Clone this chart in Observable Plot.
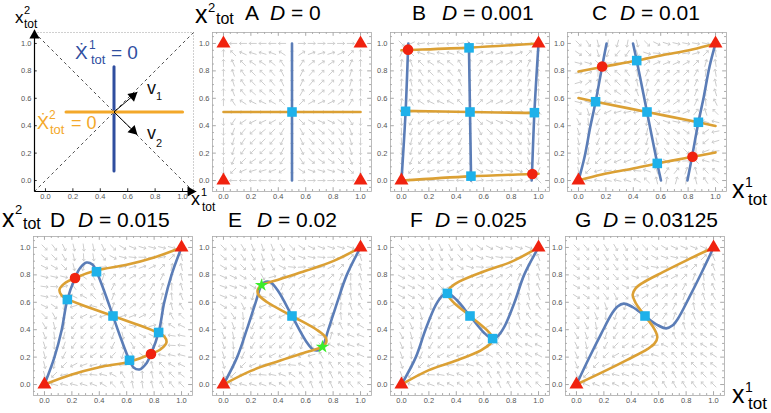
<!DOCTYPE html>
<html><head><meta charset="utf-8">
<script src="https://cdn.jsdelivr.net/npm/d3@7"></script>
<script src="https://cdn.jsdelivr.net/npm/@observablehq/plot@0.6"></script>
<style>
body{margin:0;background:#fff}
#fig{position:relative;width:771px;height:413px;overflow:hidden;background:#fff;font-family:"Liberation Sans",Arial,sans-serif}
.t{position:absolute;white-space:nowrap;line-height:0.75}
</style></head><body><div id="fig"></div>
<script>
// ---------------- data ----------------
const panelLetters = ["A","B","C","D","E","F","G"];
const couplingD = [0, 0.001, 0.01, 0.015, 0.02, 0.025, 0.03125];
const couplingLabels = ["0","0.001","0.01","0.015","0.02","0.025","0.03125"];
const tickValues = [0, 0.2, 0.4, 0.6, 0.8, 1.0];
const minorTickValues = [-0.05,0.05,0.1,0.15,0.25,0.3,0.35,0.45,0.5,0.55,0.65,0.7,0.75,0.85,0.9,0.95,1.05];

// x1-nullclines (blue), one list of curve segments per panel
const blueNullclines = [
  [[[0.5,0],[0.5,1]]],
  [[[0,0],[0.03,0.5],[0.048,0.955],[0.05,1]], [[0.492,1],[0.5,0.5],[0.508,0]], [[0.95,0],[0.952,0.045],[0.97,0.5],[1,1]]],
  [[[0,0],[0.044,0.17],[0.086,0.39],[0.125,0.575],[0.173,0.834],[0.205,1]], [[0.398,1],[0.425,0.875],[0.5,0.5],[0.575,0.125],[0.602,0]], [[0.795,0],[0.827,0.166],[0.875,0.425],[0.914,0.61],[0.956,0.83],[1,1]]],
  [[[0,0],[0.073,0.2],[0.126,0.4],[0.167,0.62],[0.223,0.777],[0.26,0.85],[0.307,0.89],[0.35,0.875],[0.38,0.823],[0.44,0.67],[0.5,0.5],[0.56,0.33],[0.62,0.177],[0.65,0.125],[0.693,0.11],[0.74,0.15],[0.777,0.223],[0.833,0.38],[0.874,0.6],[0.927,0.8],[1,1]]],
  [[[0,0],[0.1,0.2],[0.17,0.4],[0.235,0.6],[0.278,0.725],[0.31,0.75],[0.345,0.745],[0.4,0.68],[0.5,0.5],[0.6,0.32],[0.655,0.255],[0.69,0.25],[0.722,0.275],[0.765,0.4],[0.83,0.6],[0.9,0.8],[1,1]]],
  [[[0,0],[0.105,0.2],[0.175,0.4],[0.25,0.58],[0.3,0.65],[0.34,0.665],[0.4,0.62],[0.5,0.5],[0.6,0.38],[0.66,0.335],[0.7,0.35],[0.75,0.42],[0.825,0.6],[0.895,0.8],[1,1]]],
  [[[0,0],[0.09,0.19],[0.18,0.37],[0.26,0.52],[0.3,0.57],[0.345,0.59],[0.41,0.565],[0.5,0.5],[0.59,0.435],[0.655,0.41],[0.7,0.43],[0.74,0.48],[0.82,0.63],[0.91,0.81],[1,1]]]
];
// x2-nullclines (orange)
const orangeNullclines = [
  [[[0,0.5],[1,0.5]]],
  [[[0,0],[0.5,0.03],[0.955,0.048],[1,0.05]], [[0,0.508],[0.5,0.5],[1,0.492]], [[0,0.95],[0.045,0.952],[0.5,0.97],[1,1]]],
  [[[0,0],[0.17,0.044],[0.39,0.086],[0.575,0.125],[0.834,0.173],[1,0.205]], [[0,0.602],[0.125,0.575],[0.5,0.5],[0.875,0.425],[1,0.398]], [[0,0.795],[0.166,0.827],[0.425,0.875],[0.61,0.914],[0.83,0.956],[1,1]]],
  [[[0,0],[0.2,0.073],[0.4,0.126],[0.62,0.167],[0.777,0.223],[0.85,0.26],[0.89,0.307],[0.875,0.35],[0.823,0.38],[0.67,0.44],[0.5,0.5],[0.33,0.56],[0.177,0.62],[0.125,0.65],[0.11,0.693],[0.15,0.74],[0.223,0.777],[0.38,0.833],[0.6,0.874],[0.8,0.927],[1,1]]],
  [[[0,0],[0.2,0.1],[0.4,0.17],[0.6,0.235],[0.725,0.278],[0.75,0.31],[0.745,0.345],[0.68,0.4],[0.5,0.5],[0.32,0.6],[0.255,0.655],[0.25,0.69],[0.275,0.722],[0.4,0.765],[0.6,0.83],[0.8,0.9],[1,1]]],
  [[[0,0],[0.2,0.105],[0.4,0.175],[0.58,0.25],[0.65,0.3],[0.665,0.34],[0.62,0.4],[0.5,0.5],[0.38,0.6],[0.335,0.66],[0.35,0.7],[0.42,0.75],[0.6,0.825],[0.8,0.895],[1,1]]],
  [[[0,0],[0.19,0.09],[0.37,0.18],[0.52,0.26],[0.57,0.3],[0.59,0.345],[0.565,0.41],[0.5,0.5],[0.435,0.59],[0.41,0.655],[0.43,0.7],[0.48,0.74],[0.63,0.82],[0.81,0.91],[1,1]]]
];
// fixed points
const stablePoints = [
  [[0,0],[0,1],[1,0],[1,1]], [[0,0],[1,1]], [[0,0],[1,1]], [[0,0],[1,1]], [[0,0],[1,1]], [[0,0],[1,1]], [[0,0],[1,1]]
];
const circlePoints = [
  [], [[0.048,0.955],[0.955,0.048]], [[0.173,0.832],[0.832,0.173]], [[0.223,0.777],[0.777,0.223]], [], [], []
];
const squarePoints = [
  [[0.5,0.5]],
  [[0.03,0.505],[0.493,0.968],[0.5,0.5],[0.507,0.032],[0.97,0.495]],
  [[0.125,0.575],[0.425,0.875],[0.5,0.5],[0.575,0.125],[0.875,0.425]],
  [[0.167,0.62],[0.38,0.823],[0.5,0.5],[0.62,0.177],[0.833,0.38]],
  [[0.5,0.5]],
  [[0.335,0.665],[0.5,0.5],[0.665,0.335]],
  [[0.5,0.5]]
];
const starPoints = [[], [], [], [], [[0.278,0.725],[0.722,0.275]], [], []];

// local rate model used for the grey direction field: g(u) = c1 u + c3 u^3 + c5 u^5, u = x - 0.5
const rateCoefficients = [0.0625, -0.4544, 0.8176];
const fieldGrid = [0, 1/14, 2/14, 3/14, 4/14, 5/14, 6/14, 7/14, 8/14, 9/14, 10/14, 11/14, 12/14, 13/14, 1];

// schematic panel
const schematicFrame = [-0.08, 1.08];
const schematicBlue = [[0.5,0.07],[0.5,0.83]];
const schematicOrange = [[0.15,0.5],[1.0,0.5]];
const eigenvectors = [{x1:0.5,y1:0.5,x2:0.67,y2:0.645},{x1:0.5,y1:0.5,x2:0.67,y2:0.335}];
const axisArrowTips = [{x1:-0.08,y1:-0.08,x2:-0.08,y2:1.1},{x1:-0.08,y1:-0.08,x2:1.1,y2:-0.08}];

// ---------------- layout ----------------
const panelOriginX = [223, 401, 578, 44, 223, 401, 576];
const panelOriginY = [180, 180, 180, 384, 384, 384, 384];
const titleLetterX = [245, 412, 592, 50, 228, 410, 575];
const titleDX = [270, 442, 620, 78, 257, 435, 603];
const titleBaseline = [20, 20, 20, 227, 227, 227, 227];

const colBlue = "#5b7db7", colOrange = "#dba034", colRed = "#f0220f", colCyan = "#1eb1ea", colGreen = "#3cec2c";
const schemBlue = "#2f4e9f", schemOrange = "#f3a82a";

const fig = document.getElementById("fig");
const fmt = d3.format(".1f");
const DOM = [-0.08, 1.08];

function text(str, x, baseline, size, color="#000") {
  const d = document.createElement("div");
  d.className = "t";
  d.innerHTML = str;
  d.style.left = x + "px";
  d.style.top = (baseline - 0.7215*size) + "px";
  d.style.fontSize = size + "px";
  d.style.color = color;
  fig.appendChild(d);
}

function place(svg, ox, oy) {
  svg.style.position = "absolute";
  svg.style.left = (ox - 30) + "px";
  svg.style.top = (oy - 160) + "px";
  fig.appendChild(svg);
}

function frameMarks(col) {
  const maj = 0.028, min = 0.014;
  return [
    Plot.ruleX(tickValues, {y1: DOM[0], y2: DOM[0]+maj, stroke: col}),
    Plot.ruleX(tickValues, {y1: DOM[1], y2: DOM[1]-maj, stroke: col}),
    Plot.ruleY(tickValues, {x1: DOM[0], x2: DOM[0]+maj, stroke: col}),
    Plot.ruleY(tickValues, {x1: DOM[1], x2: DOM[1]-maj, stroke: col}),
    Plot.ruleX(minorTickValues, {y1: DOM[0], y2: DOM[0]+min, stroke: col}),
    Plot.ruleX(minorTickValues, {y1: DOM[1], y2: DOM[1]-min, stroke: col}),
    Plot.ruleY(minorTickValues, {x1: DOM[0], x2: DOM[0]+min, stroke: col}),
    Plot.ruleY(minorTickValues, {x1: DOM[1], x2: DOM[1]-min, stroke: col})
  ];
}
function axisMarks() {
  return [
    Plot.axisX(tickValues, {tickSize: 0, tickPadding: 2, tickFormat: fmt, color: "#555", fontSize: 7.5, label: null}),
    Plot.axisY(tickValues, {tickSize: 0, tickPadding: 3, tickFormat: fmt, color: "#555", fontSize: 7.5, label: null})
  ];
}
function plotBox(marks) {
  return Plot.plot({
    width: 190, height: 195, marginLeft: 19, marginRight: 12, marginTop: 12, marginBottom: 24,
    x: {domain: DOM, label: null}, y: {domain: DOM, label: null},
    style: {fontFamily: "Liberation Sans, Arial, sans-serif", fontSize: "7.5px", background: "transparent", overflow: "visible"},
    marks
  });
}
function g(x) {
  const u = x - 0.5;
  return rateCoefficients[0]*u + rateCoefficients[1]*u**3 + rateCoefficients[2]*u**5;
}
function field(D) {
  const out = [];
  for (const x of fieldGrid) for (const y of fieldGrid) {
    const vx = g(x) + D*(y - x), vy = g(y) + D*(x - y);
    if (Math.hypot(vx, vy) < 1e-9) continue;
    out.push({x, y, r: Math.atan2(vx, vy)*180/Math.PI});
  }
  return out;
}
function segRows(segs) {
  const rows = [];
  segs.forEach((s, k) => s.forEach(([x, y]) => rows.push({x, y, k})));
  return rows;
}

// ---------------- phase-plane panels ----------------
panelLetters.forEach((L, i) => {
  const marks = [
    Plot.vector(field(couplingD[i]), {x: "x", y: "y", rotate: "r", length: 7, stroke: "#c8c8c8", strokeWidth: 0.85}),
    ...frameMarks("#a9a9a9"),
    Plot.frame({stroke: "#aaaaaa", strokeWidth: 0.8}),
    Plot.line(segRows(blueNullclines[i]), {x: "x", y: "y", z: "k", stroke: colBlue, strokeWidth: 2.6, curve: "catmull-rom"}),
    Plot.line(segRows(orangeNullclines[i]), {x: "x", y: "y", z: "k", stroke: colOrange, strokeWidth: 2.6, curve: "catmull-rom"}),
    Plot.dot(circlePoints[i], {x: d => d[0], y: d => d[1], r: 5.3, fill: colRed}),
    Plot.dot(squarePoints[i], {x: d => d[0], y: d => d[1], symbol: "square", r: 5.4, fill: colCyan}),
    Plot.dot(starPoints[i], {x: d => d[0], y: d => d[1], symbol: "star", r: 4.2, fill: colGreen}),
    Plot.dot(stablePoints[i], {x: d => d[0], y: d => d[1], symbol: "triangle", r: 5.2, fill: colRed}),
    ...axisMarks()
  ];
  place(plotBox(marks), panelOriginX[i], panelOriginY[i]);
  text(L, titleLetterX[i], titleBaseline[i], 21);
  text("<i>D</i> = " + couplingLabels[i], titleDX[i], titleBaseline[i], 21);
});

// ---------------- schematic panel ----------------
(function () {
  const [a, b] = schematicFrame;
  const heads = [...axisArrowTips, ...eigenvectors].map(e => {
    const dx = e.x2 - e.x1, dy = e.y2 - e.y1, n = Math.hypot(dx, dy);
    return {x: e.x2 - 0.042*dx/n, y: e.y2 - 0.042*dy/n, r: Math.atan2(dx, dy)*180/Math.PI};
  });
  const marks = [
    Plot.link([{x1: a, y1: b, x2: b, y2: b}, {x1: b, y1: b, x2: b, y2: a}], {x1: "x1", y1: "y1", x2: "x2", y2: "y2", stroke: "#888", strokeWidth: 0.8, strokeDasharray: "1,2"}),
    Plot.link([{x1: a, y1: a, x2: b, y2: b}, {x1: a, y1: b, x2: b, y2: a}], {x1: "x1", y1: "y1", x2: "x2", y2: "y2", stroke: "#222", strokeWidth: 0.8, strokeDasharray: "3,3"}),
    Plot.ruleX(tickValues, {y1: a, y2: a + 0.02, stroke: "#333"}),
    Plot.ruleY(tickValues, {x1: a, x2: a + 0.02, stroke: "#333"}),
    Plot.link(axisArrowTips, {x1: "x1", y1: "y1", x2: "x2", y2: "y2", stroke: "#000", strokeWidth: 1.2}),
    Plot.line(schematicBlue, {x: d => d[0], y: d => d[1], stroke: schemBlue, strokeWidth: 3}),
    Plot.line(schematicOrange, {x: d => d[0], y: d => d[1], stroke: schemOrange, strokeWidth: 3}),
    Plot.link(eigenvectors, {x1: "x1", y1: "y1", x2: "x2", y2: "y2", stroke: "#000", strokeWidth: 1}),
    Plot.dot(heads, {x: "x", y: "y", rotate: "r", symbol: "triangle", r: 3.8, fill: "#000"}),
    ...axisMarks()
  ];
  place(plotBox(marks), 45, 180);
})();

// ---------------- axis / schematic labels ----------------
const axisLabelPieces = [
  ["x", 15, 24, 17], ["2", 24, 14, 11], ["tot", 24, 29, 12],
  ["x", 191, 206, 18], ["1", 201, 196, 11], ["tot", 202, 212, 12],
  ["x", 195, 23, 25], ["2", 208, 12, 13], ["tot", 216, 25, 16],
  ["x", 732, 198, 25], ["1", 745, 187, 14], ["tot", 748, 206, 17],
  ["x", 2, 227, 25], ["2", 15, 214, 13], ["tot", 23, 230, 16],
  ["x", 732, 403, 25], ["1", 745, 392, 14], ["tot", 748, 410, 17]
];
axisLabelPieces.forEach(p => text(p[0], p[1], p[2], p[3]));

const schematicLabels = [
  ["\u1E8A", 75, 60, 19, schemBlue], ["1", 89, 50, 12, schemBlue], ["tot", 91, 64, 13, schemBlue], ["= 0", 111, 60, 19, schemBlue],
  ["\u1E8A", 37, 130, 18, schemOrange], ["2", 49, 120, 12, schemOrange], ["tot", 50, 134, 13, schemOrange], ["= 0", 71, 130, 18, schemOrange],
  ["v", 147, 95, 18, "#111"], ["1", 156, 100, 11, "#111"],
  ["v", 147, 140, 18, "#111"], ["2", 156, 147, 11, "#111"]
];
schematicLabels.forEach(p => text(p[0], p[1], p[2], p[3], p[4]));
</script></body></html>
